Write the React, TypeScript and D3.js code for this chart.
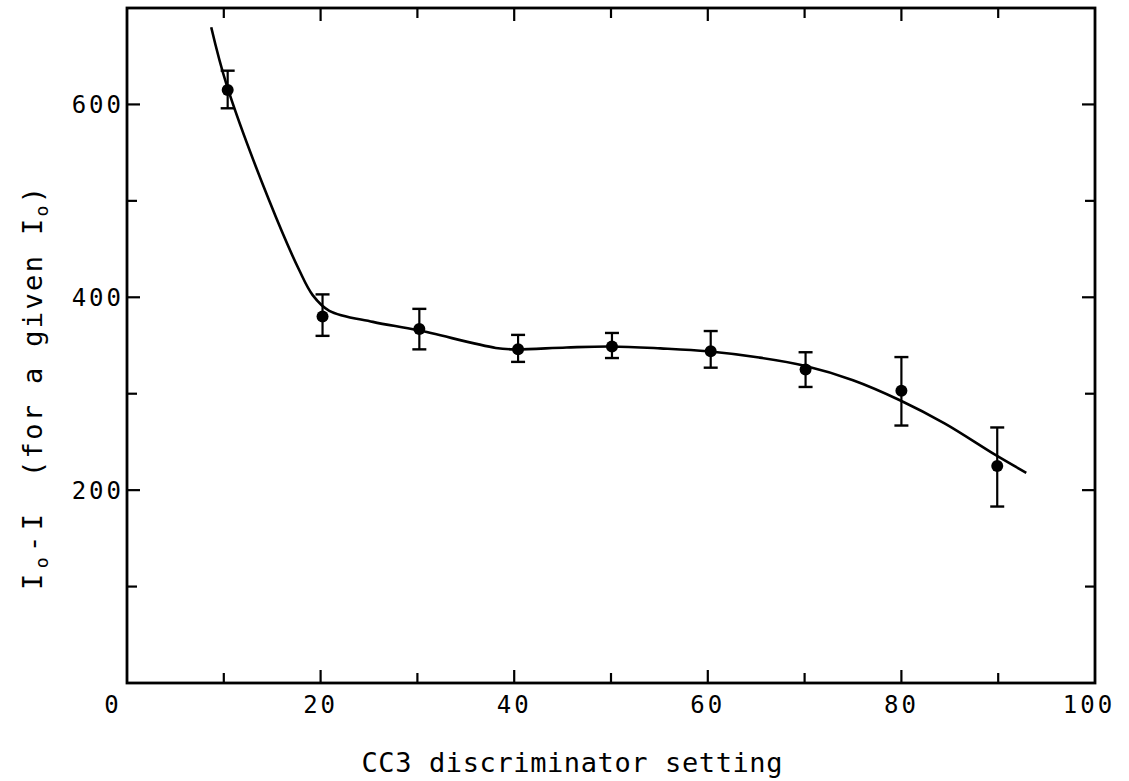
import React from "react";
import * as d3 from "d3";

const xValues = [10.4, 20.2, 30.2, 40.4, 50.1, 60.3, 70.1, 80, 89.9];
const yValues = [615, 380, 367, 346, 349, 344, 325, 303, 225];
const errUpper = [635, 403, 388, 361, 363, 365, 343, 338, 265];
const errLower = [596, 360, 346, 333, 337, 327, 307, 267, 183];

const curveX = [8.7, 10.3, 14.7, 17.8, 19.2, 20.9, 25.4, 30, 38.1, 40, 45.4, 50, 55.1, 60, 65.3, 70, 75, 79.9, 84.5, 89.8, 92.9];
const curveY = [680, 620, 500, 428, 402, 386, 374.5, 366, 347.5, 346, 348, 349, 347, 344, 337.5, 329, 314, 293, 269, 236, 218];

const xTickValues = [0, 10, 20, 30, 40, 50, 60, 70, 80, 90, 100];
const xTickLabels = ["0", "20", "40", "60", "80", "100"];
const yTickValues = [100, 200, 300, 400, 500, 600];
const yTickLabels = ["200", "400", "600"];

const W = 1129;
const H = 781;
const left = 127;
const right = 1095;
const top = 8;
const bottom = 683;

const FONT = "'DejaVu Sans Mono', monospace";

export default function App() {
  const x = d3.scaleLinear().domain([0, 100]).range([left, right]);
  const y = d3.scaleLinear().domain([0, 700]).range([bottom, top]);

  const line = d3
    .line<number>()
    .x((_, i) => x(curveX[i]))
    .y((_, i) => y(curveY[i]))
    .curve(d3.curveCatmullRom.alpha(0.5));

  const major = 13;
  const minor = 10;
  const capHalf = 7;

  return (
    <svg
      width={W}
      height={H}
      style={{ position: "absolute", left: 0, top: 0, display: "block", background: "#fff" }}
    >
      <rect x={0} y={0} width={W} height={H} fill="#fff" />
      {/* frame */}
      <rect
        x={left}
        y={top}
        width={right - left}
        height={bottom - top}
        fill="none"
        stroke="#000"
        strokeWidth={2.8}
      />
      {/* x ticks bottom & top */}
      {xTickValues.slice(1, -1).map((v) => {
        const len = v % 20 === 0 ? major : minor;
        return (
          <g key={"xt" + v}>
            <line x1={x(v)} x2={x(v)} y1={bottom} y2={bottom - len} stroke="#000" strokeWidth={2.2} />
            <line x1={x(v)} x2={x(v)} y1={top} y2={top + len} stroke="#000" strokeWidth={2.2} />
          </g>
        );
      })}
      {/* y ticks left & right */}
      {yTickValues.map((v) => {
        const len = v % 200 === 0 ? major : minor;
        return (
          <g key={"yt" + v}>
            <line x1={left} x2={left + len} y1={y(v)} y2={y(v)} stroke="#000" strokeWidth={2.2} />
            <line x1={right} x2={right - len} y1={y(v)} y2={y(v)} stroke="#000" strokeWidth={2.2} />
          </g>
        );
      })}
      {/* x tick labels */}
      {xTickLabels.map((t) => {
        const v = +t;
        const dx = v === 0 ? -14 : v === 100 ? -6 : 0;
        return (
          <text
            key={"xl" + t}
            x={x(v) + dx}
            y={713}
            textAnchor="middle"
            fontFamily={FONT}
            fontSize={24}
            letterSpacing={3}
            fill="#000"
          >
            {t}
          </text>
        );
      })}
      {/* y tick labels */}
      {yTickLabels.map((t) => (
        <text
          key={"yl" + t}
          x={left - 3}
          y={y(+t) + 9}
          textAnchor="end"
          fontFamily={FONT}
          fontSize={24}
          letterSpacing={3}
          fill="#000"
        >
          {t}
        </text>
      ))}
      {/* x title */}
      <text
        x={572}
        y={772}
        textAnchor="middle"
        fontFamily={FONT}
        fontSize={27}
        textLength={421}
        lengthAdjust="spacing"
        fill="#000"
      >
        CC3 discriminator setting
      </text>
      {/* y title */}
      <text
        transform={`translate(42,590) rotate(-90)`}
        fontFamily={FONT}
        fontSize={27}
        fill="#000"
        textLength={76}
        lengthAdjust="spacing"
      >
        <tspan>I</tspan>
        <tspan fontSize={18} dy={6}>o</tspan>
        <tspan dy={-6}>-I</tspan>
      </text>
      <text
        transform={`translate(42,477) rotate(-90)`}
        fontFamily={FONT}
        fontSize={27}
        fill="#000"
        textLength={290}
        lengthAdjust="spacing"
      >
        <tspan>(for a given I</tspan>
        <tspan fontSize={18} dy={6}>o</tspan>
        <tspan dy={-6}>)</tspan>
      </text>
      {/* curve */}
      <path d={line(curveX) || ""} fill="none" stroke="#000" strokeWidth={2.6} />
      {/* error bars & points */}
      {xValues.map((v, i) => (
        <g key={"p" + v}>
          <line x1={x(v)} x2={x(v)} y1={y(errUpper[i])} y2={y(errLower[i])} stroke="#000" strokeWidth={2.2} />
          <line x1={x(v) - capHalf} x2={x(v) + capHalf} y1={y(errUpper[i])} y2={y(errUpper[i])} stroke="#000" strokeWidth={2.4} />
          <line x1={x(v) - capHalf} x2={x(v) + capHalf} y1={y(errLower[i])} y2={y(errLower[i])} stroke="#000" strokeWidth={2.4} />
          <circle cx={x(v)} cy={y(yValues[i])} r={6} fill="#000" />
        </g>
      ))}
    </svg>
  );
}
